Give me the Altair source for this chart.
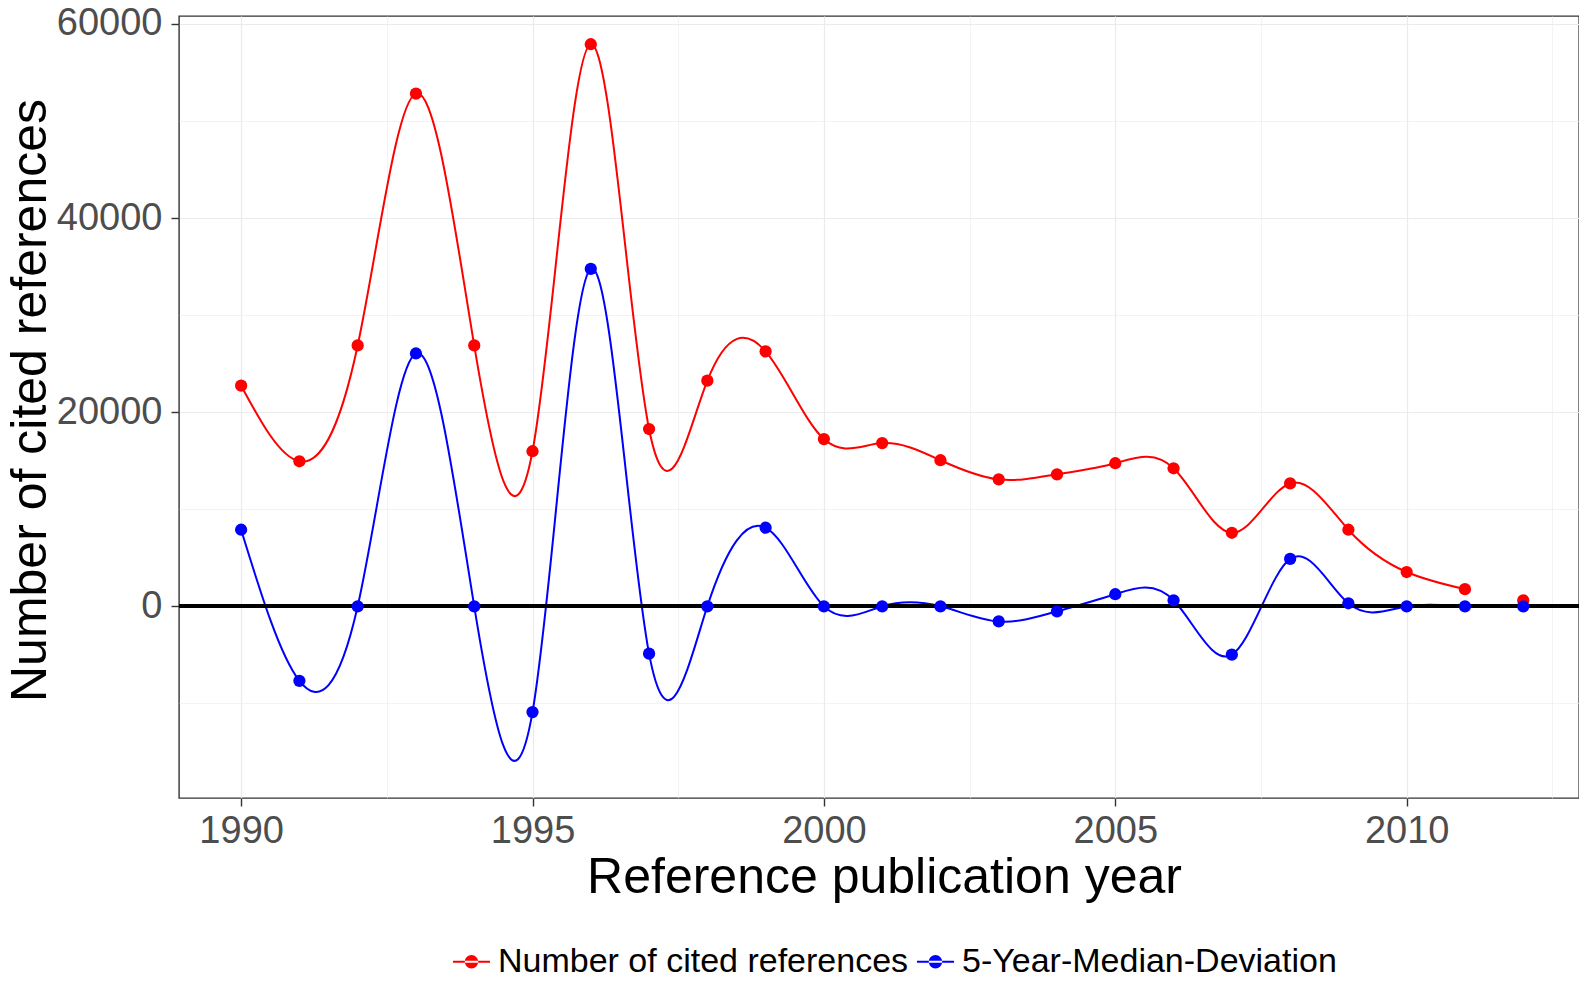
import altair as alt
import pandas as pd

years = list(range(1990, 2013))
cited = [22730, 14945, 26880, 52830, 26880, 15980, 57915, 18265, 23250, 26260,
         17230, 16815, 15050, 13080, 13600, 14740, 14220, 7575, 12660, 7890,
         3530, 1765, 620]
deviation = [7890, -7680, 0, 26050, 0, -10900, 34770, -4880, 0, 8095,
             0, 0, 0, -1560, -520, 1245, 620, -4980, 4880, 310,
             0, 0, 0]
series_names = ["Number of cited references", "5-Year-Median-Deviation"]
series_colors = ["#ff0000", "#0000ff"]
x_ticks = [1990, 1992.5, 1995, 1997.5, 2000, 2002.5, 2005, 2007.5, 2010, 2012.5]
y_ticks = [-10000, 0, 10000, 20000, 30000, 40000, 50000, 60000]

rows = []
for y, c, d in zip(years, cited, deviation):
    rows.append({"year": y, "value": c, "series": series_names[0]})
    rows.append({"year": y, "value": d, "series": series_names[1]})
df = pd.DataFrame(rows)

FONT = "Liberation Sans"
major_x = "datum.value % 5 === 0"
major_y = "datum.value % 20000 === 0"

x_enc = alt.X(
    "year:Q",
    scale=alt.Scale(domain=[1988.934, 2012.957], nice=False, zero=False),
    axis=alt.Axis(
        values=x_ticks, format="d",
        labelExpr=f"{major_x} ? datum.label : ''",
        title="Reference publication year",
        titleFontSize=50, titleFontWeight="normal", titleColor="black", titleFont=FONT,
        titleX=705, titleY=94, titleAlign="center", titleBaseline="alphabetic",
        labelFontSize=38, labelColor="#4d4d4d", labelFont=FONT,
        labelBaseline="alphabetic", labelPadding=36,
        tickSize=8, tickColor="#333333", tickWidth=1.4,
        tickOpacity={"condition": {"test": major_x, "value": 1}, "value": 0},
        grid=True, gridColor="#ebebeb",
        gridWidth={"condition": {"test": major_x, "value": 1.2}, "value": 0.6},
        domain=False, labelFlush=False, labelOverlap=False,
    ),
)
y_enc = alt.Y(
    "value:Q",
    scale=alt.Scale(domain=[-19753, 60824], nice=False, zero=False),
    axis=alt.Axis(
        values=y_ticks, format="d",
        labelExpr=f"{major_y} ? datum.label : ''",
        title="Number of cited references",
        titleFontSize=50, titleFontWeight="normal", titleColor="black", titleFont=FONT,
        titleAngle=270, titleX=-134, titleY=384, titleAlign="center",
        titleBaseline="alphabetic",
        labelFontSize=38, labelColor="#4d4d4d", labelFont=FONT,
        labelPadding=9, labelBaseline="middle",
        tickSize=8, tickColor="#333333", tickWidth=1.4,
        tickOpacity={"condition": {"test": major_y, "value": 1}, "value": 0},
        grid=True, gridColor="#ebebeb",
        gridWidth={"condition": {"test": major_y, "value": 1.2}, "value": 0.6},
        domain=False, labelFlush=False, labelOverlap=False,
    ),
)

legend_symbol = ("M-1,-0.06L1,-0.06L1,0.06L-1,0.06Z "
                 "M-0.36,0A0.36,0.36,0,1,0,0.36,0A0.36,0.36,0,1,0,-0.36,0Z")
legend = alt.Legend(
    title=None, orient="none", direction="horizontal",
    legendX=274, legendY=927,
    symbolType=legend_symbol, symbolSize=1369, symbolStrokeWidth=0,
    symbolOpacity=1,
    labelFontSize=34, labelFont=FONT, labelColor="black",
    labelOffset=8, columnPadding=8, labelLimit=800, padding=0,
)
color_enc = alt.Color("series:N",
                      scale=alt.Scale(domain=series_names, range=series_colors),
                      legend=legend)

base = alt.Chart(df)

lines = base.transform_filter(
    "datum.series === '5-Year-Median-Deviation' || datum.year <= 2011"
).mark_line(interpolate="natural", strokeWidth=2, clip=True).encode(
    x=x_enc, y=y_enc, color=color_enc,
)

zero_rule = base.mark_rule(color="black", strokeWidth=3).encode(y=alt.datum(0))

points = base.mark_point(filled=True, size=150, opacity=1).encode(
    x=x_enc, y=y_enc, color=color_enc,
)

chart = alt.layer(lines, zero_rule, points).properties(
    width=1400, height=782,
    autosize=alt.AutoSizeParams(type="none"),
    padding={"left": 171, "top": 8, "right": 0, "bottom": 183},
    background="white",
).configure_view(stroke="#333333", strokeWidth=1.4)

chart.save("out.html", embed_options={"renderer": "svg", "actions": False})
